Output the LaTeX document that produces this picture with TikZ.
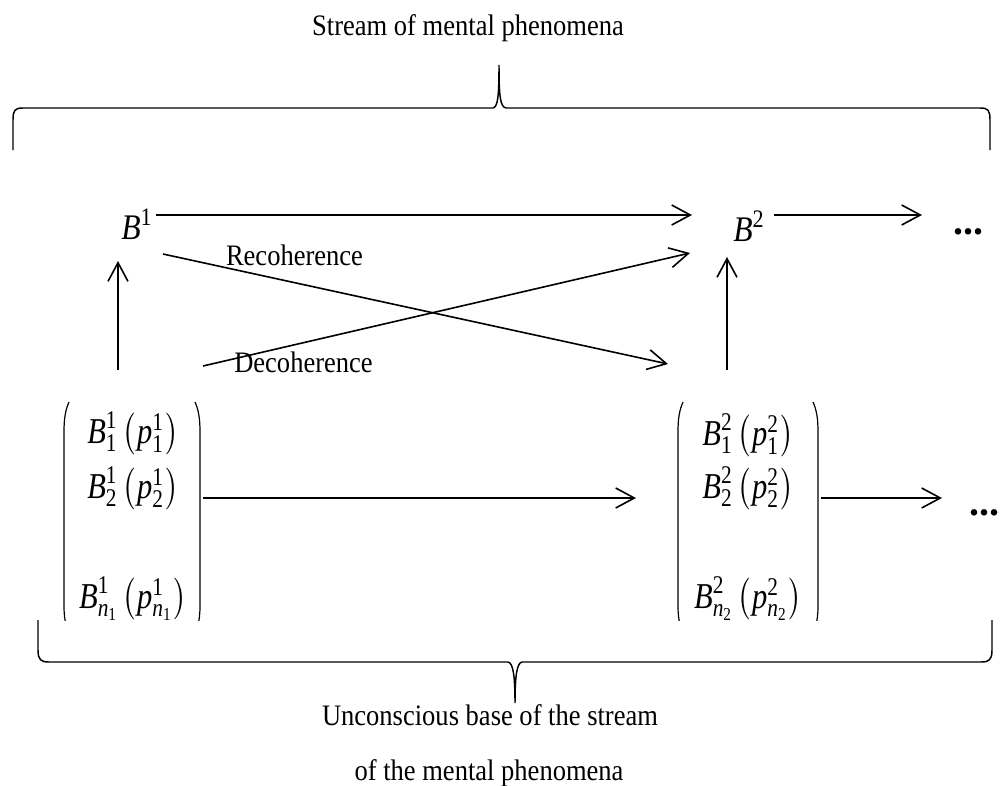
\documentclass[tikz,border=0pt]{standalone}
\usepackage{fontspec}
\usepackage{amsmath}
\usepackage{graphicx}
\setmainfont{Liberation Serif}
\usetikzlibrary{arrows.meta}
\newcommand{\ti}[1]{\text{\itshape #1}}
\newcommand{\tu}[1]{\text{\upshape #1}}
\newcommand{\entry}[3]{\scalebox{0.88}[1.05]{$\ti{B}^{\tu{#1}}_{#2}\mkern3mu\bigl(\mkern1mu\ti{p}^{\tu{#1}}_{#3}\mkern1mu\bigr)$}}
\begin{document}
\begin{tikzpicture}[x=0.75pt,y=-0.75pt,
  ln/.style={line width=1.2pt},
  arr/.style={ln,-{Straight Barb[length=14pt,width=15pt,line width=1.2pt]}},
  brace/.style={line width=1.1pt},
  paren/.style={line width=0.9pt},
  txt/.style={inner sep=0pt,anchor=base,font=\fontsize{19.9}{24}\selectfont},
  bnode/.style={inner sep=0pt,anchor=base west,font=\fontsize{25}{30}\selectfont},
  ent/.style={inner sep=0pt,anchor=base,font=\fontsize{26}{31}\selectfont},
  dots/.style={inner sep=0pt,anchor=base,font=\fontsize{30}{34}\selectfont\bfseries}]
\useasboundingbox (0,0) rectangle (1002,785);

% titles
\node[txt] (title) at (468,36) {\scalebox{1}[1.12]{Stream of mental phenomena}};
\node[txt] (base1) at (490,725) {\scalebox{1}[1.12]{Unconscious base of the stream}};
\node[txt] (base2) at (489,780) {\scalebox{1}[1.12]{of the mental phenomena}};

% top brace
\draw[brace] (13,150) -- (13,120) .. controls (13,110) and (15,108) .. (23,108)
  -- (493,108) .. controls (498,107) and (499,95) .. (499,65)
  .. controls (499,95) and (500,107) .. (506,108)
  -- (980,108) .. controls (988,108) and (990,110) .. (990,120) -- (990,150);

% bottom brace
\draw[brace] (38,620) -- (38,650) .. controls (38,660) and (41,662) .. (49,662)
  -- (508,662) .. controls (513,663) and (515,675) .. (515,703)
  .. controls (515,675) and (517,663) .. (522,662)
  -- (981,662) .. controls (989,662) and (992,660) .. (992,650) -- (992,620);

% top row
\node[bnode] (B1) at (121,239) {\scalebox{0.95}[1.08]{$\ti{B}^{\tu{1}}$}};
\node[bnode] (B2) at (733,241) {\scalebox{0.95}[1.08]{$\ti{B}^{\tu{2}}$}};
\node[dots] (dotsT) at (968,234) {...};
\node[dots] (dotsB) at (984,515) {...};

\coordinate (B1r) at (156,215);
\coordinate (B2l) at (692,215);
\coordinate (B2r) at (774,215);
\coordinate (dTl) at (922,215);
\draw[arr] (B1r) -- (B2l);
\draw[arr] (B2r) -- (dTl);

% labels
\node[txt] (reco) at (294.5,265) {\scalebox{1}[1.12]{Recoherence}};
\node[txt] (deco) at (303.5,372) {\scalebox{1}[1.12]{Decoherence}};

% diagonals
\coordinate (d1s) at (163,254);
\coordinate (d1e) at (668,364);
\coordinate (d2s) at (203,366);
\coordinate (d2e) at (690,253);
\draw[arr] (d1s) -- (d1e);
\draw[arr] (d2s) -- (d2e);

% up arrows
\coordinate (u1s) at (118,370);
\coordinate (u1e) at (118,261);
\coordinate (u2s) at (727,370);
\coordinate (u2e) at (727,257);
\draw[arr] (u1s) -- (u1e);
\draw[arr] (u2s) -- (u2e);

% matrices (clipped at bottom)
\begin{scope}
\clip (0,380) rectangle (1002,620);
\node[ent] (m11) at (133,443) {\entry{1}{\tu{1}}{\tu{1}}};
\node[ent] (m12) at (133,498) {\entry{1}{\tu{2}}{\tu{2}}};
\node[ent] (m1n) at (133,608) {\entry{1}{\ti{n}_{\tu{1}}}{\ti{n}_{\tu{1}}}};
\node[ent] (m21) at (748,445) {\entry{2}{\tu{1}}{\tu{1}}};
\node[ent] (m22) at (748,498) {\entry{2}{\tu{2}}{\tu{2}}};
\node[ent] (m2n) at (748,608) {\entry{2}{\ti{n}_{\tu{2}}}{\ti{n}_{\tu{2}}}};
\draw[paren] (69,402) .. controls (65.5,410) and (64,418) .. (64,432) -- (64,606) .. controls (64,615) and (65,620) .. (66,626);
\draw[paren] (195,402) .. controls (198.5,410) and (200,418) .. (200,432) -- (200,606) .. controls (200,615) and (199,620) .. (198,626);
\draw[paren] (683,402) .. controls (679.5,410) and (678,418) .. (678,432) -- (678,606) .. controls (678,615) and (679,620) .. (680,626);
\draw[paren] (813,402) .. controls (816.5,410) and (818,418) .. (818,432) -- (818,606) .. controls (818,615) and (817,620) .. (816,626);
\end{scope}

\coordinate (M1r) at (203,498);
\coordinate (M2l) at (636,498);
\coordinate (M2r) at (821,498);
\coordinate (dBl) at (942,498);
\draw[arr] (M1r) -- (M2l);
\draw[arr] (M2r) -- (dBl);
\end{tikzpicture}
\end{document}
